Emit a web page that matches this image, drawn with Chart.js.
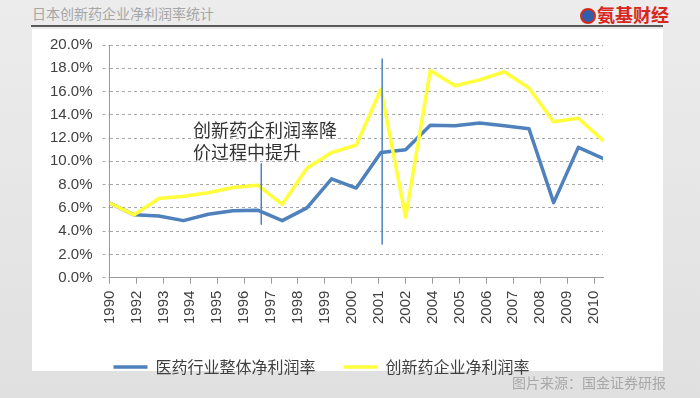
<!DOCTYPE html>
<html>
<head>
<meta charset="utf-8">
<script src="https://cdn.jsdelivr.net/npm/chart.js@4.4.0/dist/chart.umd.min.js"></script>
<style>
  html, body { margin: 0; padding: 0; }
  body {
    width: 700px; height: 398px; position: relative; overflow: hidden;
    background: linear-gradient(180deg, #ececec 0%, #e0e0e0 100%);
    font-family: "Noto Sans CJK SC", sans-serif;
  }
  #title { position: absolute; left: 32px; top: 3px; font-size: 14px; color: #a6a6a6; }
  #logo { position: absolute; left: 580px; top: 3px; font-size: 18px; font-weight: bold; color: #d8271d; line-height: 22px; }
  #logo span {
    display: inline-block; width: 12px; height: 12px; border-radius: 50%;
    border: 2px solid #d8271d; background: #2f5fa8; vertical-align: -2px; margin-right: 1px;
  }
  #rule { position: absolute; left: 31px; top: 25px; width: 632px; height: 2px; background: #5a5a5a; }
  #panel { position: absolute; left: 32px; top: 29px; width: 631px; height: 342px; background: #fff; }
  #wrap { position: absolute; left: 40px; top: 26px; width: 582px; height: 359px; }
  #source { position: absolute; left: 512px; top: 372px; font-size: 14px; color: #a8a8a8; }
</style>
</head>
<body>
<div id="title">日本创新药企业净利润率统计</div>
<div id="logo"><span></span>氨基财经</div>
<div id="rule"></div>
<div id="panel"></div>
<div id="wrap"><canvas id="marginChart"></canvas></div>
<div id="source">图片来源：国金证券研报</div>
<script>
// tick labels shown under the axis (19 of them)
var yearLabels = ['1990', '1992', '1993', '1994', '1995', '1996', '1997', '1998', '1999', '2000',
    '2001', '2002', '2004', '2005', '2006', '2007', '2008', '2009', '2010'];

// series values in %, 21 points each
var industryMargin = [6.4, 5.4, 5.3, 4.9, 5.45, 5.75, 5.8, 4.9, 6.0, 8.5, 7.7,
    10.75, 11.0, 13.1, 13.05, 13.3, 13.05, 12.8, 6.45, 11.2, 10.25];
var innovatorMargin = [6.4, 5.4, 6.8, 7.0, 7.3, 7.75, 7.95, 6.3, 9.4, 10.75, 11.4,
    16.2, 5.2, 17.8, 16.5, 17.0, 17.7, 16.3, 13.4, 13.7, 11.8];

// the two thin vertical marker lines
var markerAt = [6.15, 11.05];
var markerFrom = [4.6, 2.9];
var markerTo = [9.8, 18.8];

var seriesNames = ['医药行业整体净利润率', '创新药企业净利润率'];
var noteLines = ['创新药企利润率降', '价过程中提升'];

document.addEventListener("DOMContentLoaded", function () {
    function toPoints(values) {
        return values.map(function (v, i) { return { x: i, y: v }; });
    }

    var datasets = [{
        label: seriesNames[0],
        data: toPoints(industryMargin),
        borderColor: '#4f81bd',
        backgroundColor: '#4f81bd',
        borderWidth: 3.5,
        order: 1
    }, {
        label: seriesNames[1],
        data: toPoints(innovatorMargin),
        borderColor: '#ffff3c',
        backgroundColor: '#ffff3c',
        borderWidth: 3.5,
        order: 0
    }];

    markerAt.forEach(function (x, i) {
        datasets.push({
            data: [{ x: x, y: markerFrom[i] }, { x: x, y: markerTo[i] }],
            borderColor: '#4f81bd',
            borderWidth: 1.5,
            order: -1
        });
    });

    // annotation text, placed with the chart's own scales
    var notePlugin = {
        id: 'note',
        afterDatasetsDraw: function (chart) {
            var ctx = chart.ctx;
            var x = chart.scales.x.getPixelForValue(3.38);
            ctx.save();
            ctx.font = '18px "Noto Sans CJK SC"';
            ctx.fillStyle = '#333333';
            ctx.textBaseline = 'middle';
            ctx.fillText(noteLines[0], x, chart.scales.y.getPixelForValue(12.7));
            ctx.fillText(noteLines[1], x, chart.scales.y.getPixelForValue(10.78));
            ctx.restore();
        }
    };

    var ctx = document.getElementById('marginChart').getContext('2d');
    var marginChart = new Chart(ctx, {
        type: 'line',
        data: { datasets: datasets },
        options: {
            responsive: true,
            maintainAspectRatio: false,
            animation: false,
            layout: { padding: { left: 0, right: 19, top: 2, bottom: 0 } },
            elements: {
                point: { radius: 0, hoverRadius: 0, pointStyle: 'line' },
                line: { tension: 0, borderJoinStyle: 'round', borderCapStyle: 'round' }
            },
            scales: {
                x: {
                    type: 'linear',
                    display: false,
                    min: 0,
                    max: 20
                },
                x2: {
                    type: 'linear',
                    position: 'bottom',
                    min: 0,
                    max: 18.33,
                    border: { display: true, color: '#9a9a9a', width: 1 },
                    grid: { drawOnChartArea: false, tickLength: 6, color: '#9a9a9a' },
                    ticks: {
                        stepSize: 1,
                        autoSkip: false,
                        includeBounds: false,
                        maxRotation: 90,
                        minRotation: 90,
                        padding: 7,
                        color: '#404040',
                        font: { family: 'Liberation Sans', size: 15 },
                        callback: function (value) { return yearLabels[value]; }
                    }
                },
                y: {
                    min: 0,
                    max: 20,
                    border: { display: true, color: '#9a9a9a', width: 1, dash: [3, 3] },
                    grid: {
                        color: '#a8a8a8',
                        tickLength: 7,
                        tickBorderDash: [3, 3]
                    },
                    ticks: {
                        stepSize: 2,
                        padding: 10,
                        color: '#404040',
                        font: { family: 'Liberation Sans', size: 15 },
                        callback: function (value) { return value.toFixed(1) + '%'; }
                    }
                }
            },
            plugins: {
                legend: {
                    position: 'bottom',
                    labels: {
                        usePointStyle: true,
                        pointStyle: 'line',
                        pointStyleWidth: 34,
                        padding: 28,
                        color: '#404040',
                        font: { family: 'Noto Sans CJK SC', size: 16 },
                        filter: function (item) { return item.datasetIndex < 2; },
                        sort: function (a, b) { return a.datasetIndex - b.datasetIndex; }
                    }
                },
                tooltip: { enabled: false }
            }
        },
        plugins: [notePlugin]
    });
});
</script>
</body>
</html>
